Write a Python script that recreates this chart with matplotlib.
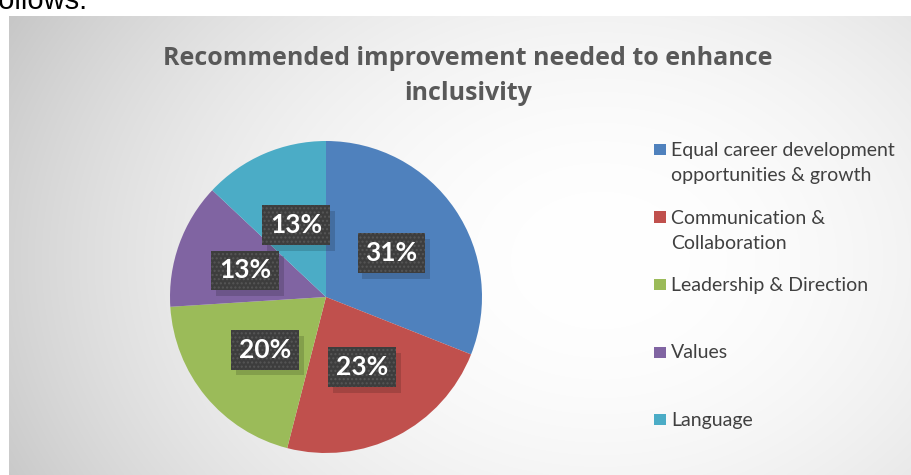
import numpy as np
import matplotlib.pyplot as plt
from matplotlib.patches import Rectangle

plt.rcParams['font.family'] = ['Lato', 'DejaVu Sans']
plt.rcParams['hatch.linewidth'] = 1.0

title = "Recommended improvement needed to enhance\ninclusivity"
categories = ["Equal career development\nopportunities & growth",
              "Communication &\nCollaboration",
              "Leadership & Direction",
              "Values",
              "Language"]
shares = [31, 23, 20, 13, 13]
colors = ["#4F81BD", "#C0504D", "#9BBB59", "#8064A2", "#4BACC6"]

W, H = 912, 475
fig = plt.figure(figsize=(W / 100, H / 100), dpi=100)
fig.patch.set_facecolor("white")

# chart area background: soft radial grey gradient
box_l, box_t = 9, 16
bg = fig.add_axes([box_l / W, 0, (W - box_l) / W, (H - box_t) / H])
xx, yy = np.meshgrid(np.arange(box_l, W), np.arange(box_t, H))
d = np.hypot(xx - 600, (yy - 260) * 1.3)
shade = np.clip(255 - 1.25e-4 * d ** 2, 185, 255) / 255
bg.imshow(np.dstack([shade] * 3), aspect="auto", interpolation="bilinear")
bg.set_axis_off()

fig.text(-9 / W, 1 - 9 / H, "follows.", family="Liberation Sans",
         fontsize=21, color="black", va="baseline", ha="left")

fig.text(468 / W, 1 - 76 / H, title, ha="center", va="center",
         family="Open Sans", fontsize=18, fontweight="bold", color="#595959",
         linespacing=1.55)

# pie
cx, cy, r = 326, 297, 156
ax = fig.add_axes([(cx - r) / W, (H - cy - r) / H, 2 * r / W, 2 * r / H])
ax.set_aspect("equal")
wedges, _ = ax.pie(shares, colors=colors, startangle=90, counterclock=False,
                   radius=1.0, wedgeprops=dict(linewidth=0))
ax.set_xlim(-1, 1)
ax.set_ylim(-1, 1)
ax.set_axis_off()

# percentage labels in dark dotted boxes with a soft drop shadow
label_pos = [(0.42, 0.28), (0.23, -0.45), (-0.39, -0.34), (-0.52, 0.17), (-0.19, 0.46)]
for val, (lx, ly) in zip(shares, label_pos):
    txt = f"{val}%"
    ax.text(lx + 0.03, ly - 0.035, txt, ha="center", va="center", fontsize=19,
            fontweight="bold", color=(0, 0, 0, 0),
            bbox=dict(boxstyle="square,pad=0.3", facecolor="black",
                      alpha=0.15, edgecolor="none"))
    ax.text(lx, ly, txt, ha="center", va="center", fontsize=19,
            fontweight="bold", color="white",
            bbox=dict(boxstyle="square,pad=0.3", facecolor="#3d3d3d",
                      edgecolor="#565656", linewidth=0, hatch="...."))

# legend, one evenly spaced slot per entry
for i, (name, col) in enumerate(zip(categories, colors)):
    mid = 149 + i * 67.5
    fig.patches.append(Rectangle((654 / W, 1 - (mid + 6) / H), 12 / W, 11 / H,
                                 transform=fig.transFigure, facecolor=col,
                                 edgecolor="none"))
    fig.text(671 / W, 1 - (mid - 7) / H, name, ha="left", va="top",
             fontsize=14, color="#404040", linespacing=1.6)

fig.savefig("out.png", dpi=100)
